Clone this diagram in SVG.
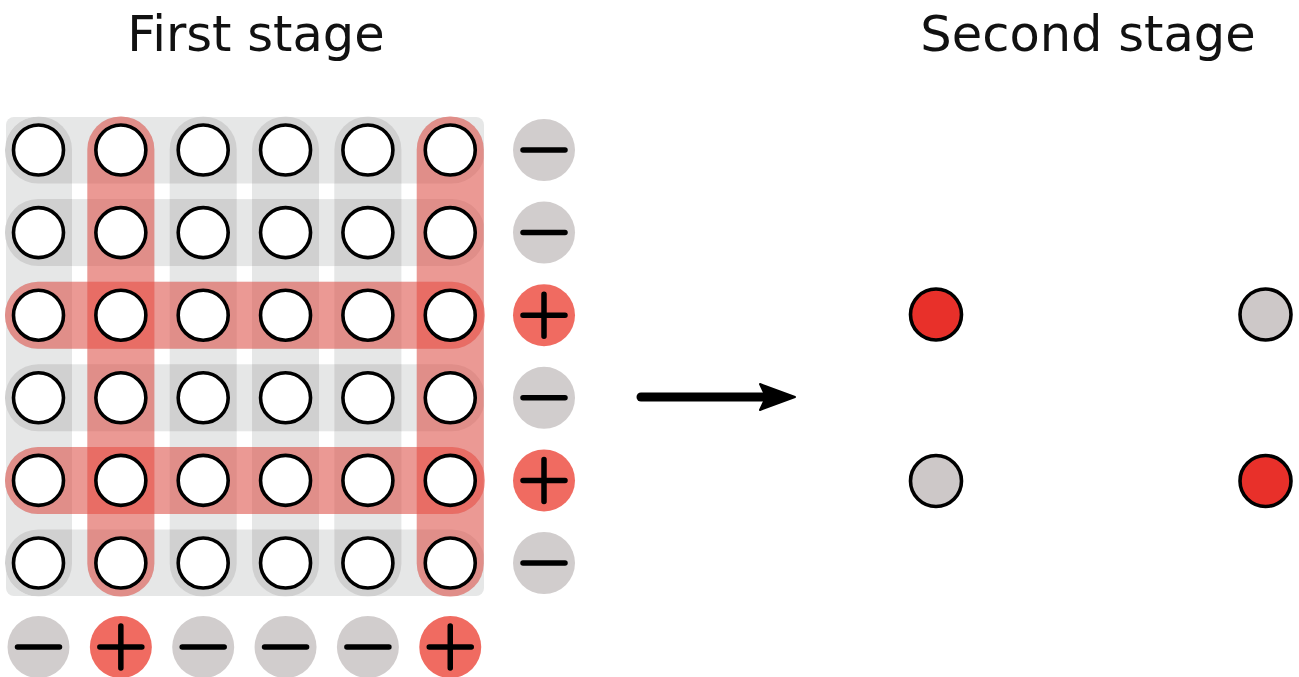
<svg xmlns="http://www.w3.org/2000/svg" width="1299" height="677" viewBox="0 0 1299 677">
<style>
.title{font-family:"DejaVu Sans",Verdana,sans-serif;font-size:49.5px;fill:#111;text-anchor:middle}
.cell{fill:#fff;stroke:#000;stroke-width:3.6}
.mneg{fill:#d1cdcd}
.mpos{fill:#f06b61}
.sign{stroke:#000;stroke-width:5.5;stroke-linecap:round;fill:none}
.dark{fill:#d0d0d0}
.red{fill:#f04c42;fill-opacity:0.5}
.gap{fill:#fff}
</style>
<defs>
<clipPath id="rowclip">
<rect x="5" y="116.5" width="480" height="67" rx="33"/>
<rect x="5" y="199.1" width="480" height="67" rx="33"/>
<rect x="5" y="281.7" width="480" height="67" rx="33"/>
<rect x="5" y="364.3" width="480" height="67" rx="33"/>
<rect x="5" y="446.9" width="480" height="67" rx="33"/>
<rect x="5" y="529.5" width="480" height="67" rx="33"/>
</clipPath>
</defs>
<text class="title" x="256" y="51">First stage</text>
<text class="title" x="1088" y="51">Second stage</text>
<g id="grid-background">
<rect x="6" y="117" width="478" height="479" rx="8" fill="#e6e7e7"/>
<g class="gap">
<rect x="72" y="183.5" width="15.3" height="15.6"/><rect x="154.4" y="183.5" width="15.3" height="15.6"/><rect x="236.7" y="183.5" width="15.3" height="15.6"/><rect x="319" y="183.5" width="15.3" height="15.6"/><rect x="401.4" y="183.5" width="15.3" height="15.6"/>
<rect x="72" y="266.1" width="15.3" height="15.6"/><rect x="154.4" y="266.1" width="15.3" height="15.6"/><rect x="236.7" y="266.1" width="15.3" height="15.6"/><rect x="319" y="266.1" width="15.3" height="15.6"/><rect x="401.4" y="266.1" width="15.3" height="15.6"/>
<rect x="72" y="348.7" width="15.3" height="15.6"/><rect x="154.4" y="348.7" width="15.3" height="15.6"/><rect x="236.7" y="348.7" width="15.3" height="15.6"/><rect x="319" y="348.7" width="15.3" height="15.6"/><rect x="401.4" y="348.7" width="15.3" height="15.6"/>
<rect x="72" y="431.3" width="15.3" height="15.6"/><rect x="154.4" y="431.3" width="15.3" height="15.6"/><rect x="236.7" y="431.3" width="15.3" height="15.6"/><rect x="319" y="431.3" width="15.3" height="15.6"/><rect x="401.4" y="431.3" width="15.3" height="15.6"/>
<rect x="72" y="513.9" width="15.3" height="15.6"/><rect x="154.4" y="513.9" width="15.3" height="15.6"/><rect x="236.7" y="513.9" width="15.3" height="15.6"/><rect x="319" y="513.9" width="15.3" height="15.6"/><rect x="401.4" y="513.9" width="15.3" height="15.6"/>
</g>
<g class="dark" clip-path="url(#rowclip)">
<rect x="5" y="116.5" width="67" height="480" rx="33"/>
<rect x="87.35" y="116.5" width="67" height="480" rx="33"/>
<rect x="169.7" y="116.5" width="67" height="480" rx="33"/>
<rect x="252.05" y="116.5" width="67" height="480" rx="33"/>
<rect x="334.4" y="116.5" width="67" height="480" rx="33"/>
<rect x="416.75" y="116.5" width="67" height="480" rx="33"/>
</g>
</g>
<g id="red-bands">
<rect class="red" x="5" y="281.7" width="480" height="67" rx="33"/>
<rect class="red" x="5" y="446.9" width="480" height="67" rx="33"/>
<rect class="red" x="87.35" y="116.5" width="67" height="480" rx="33"/>
<rect class="red" x="416.75" y="116.5" width="67" height="480" rx="33"/>
</g>
<g id="cells">
<circle class="cell" cx="38.5" cy="150" r="25"/><circle class="cell" cx="120.85" cy="150" r="25"/><circle class="cell" cx="203.2" cy="150" r="25"/><circle class="cell" cx="285.55" cy="150" r="25"/><circle class="cell" cx="367.9" cy="150" r="25"/><circle class="cell" cx="450.25" cy="150" r="25"/>
<circle class="cell" cx="38.5" cy="232.6" r="25"/><circle class="cell" cx="120.85" cy="232.6" r="25"/><circle class="cell" cx="203.2" cy="232.6" r="25"/><circle class="cell" cx="285.55" cy="232.6" r="25"/><circle class="cell" cx="367.9" cy="232.6" r="25"/><circle class="cell" cx="450.25" cy="232.6" r="25"/>
<circle class="cell" cx="38.5" cy="315.2" r="25"/><circle class="cell" cx="120.85" cy="315.2" r="25"/><circle class="cell" cx="203.2" cy="315.2" r="25"/><circle class="cell" cx="285.55" cy="315.2" r="25"/><circle class="cell" cx="367.9" cy="315.2" r="25"/><circle class="cell" cx="450.25" cy="315.2" r="25"/>
<circle class="cell" cx="38.5" cy="397.8" r="25"/><circle class="cell" cx="120.85" cy="397.8" r="25"/><circle class="cell" cx="203.2" cy="397.8" r="25"/><circle class="cell" cx="285.55" cy="397.8" r="25"/><circle class="cell" cx="367.9" cy="397.8" r="25"/><circle class="cell" cx="450.25" cy="397.8" r="25"/>
<circle class="cell" cx="38.5" cy="480.4" r="25"/><circle class="cell" cx="120.85" cy="480.4" r="25"/><circle class="cell" cx="203.2" cy="480.4" r="25"/><circle class="cell" cx="285.55" cy="480.4" r="25"/><circle class="cell" cx="367.9" cy="480.4" r="25"/><circle class="cell" cx="450.25" cy="480.4" r="25"/>
<circle class="cell" cx="38.5" cy="563" r="25"/><circle class="cell" cx="120.85" cy="563" r="25"/><circle class="cell" cx="203.2" cy="563" r="25"/><circle class="cell" cx="285.55" cy="563" r="25"/><circle class="cell" cx="367.9" cy="563" r="25"/><circle class="cell" cx="450.25" cy="563" r="25"/>
</g>
<g id="row-markers">
<circle class="mneg" cx="544" cy="150" r="31"/><path class="sign" d="M523 150h42"/>
<circle class="mneg" cx="544" cy="232.6" r="31"/><path class="sign" d="M523 232.6h42"/>
<circle class="mpos" cx="544" cy="315.2" r="31"/><path class="sign" d="M523 315.2h42M544 294.2v42"/>
<circle class="mneg" cx="544" cy="397.8" r="31"/><path class="sign" d="M523 397.8h42"/>
<circle class="mpos" cx="544" cy="480.4" r="31"/><path class="sign" d="M523 480.4h42M544 459.4v42"/>
<circle class="mneg" cx="544" cy="563" r="31"/><path class="sign" d="M523 563h42"/>
</g>
<g id="col-markers">
<circle class="mneg" cx="38.5" cy="647" r="31"/><path class="sign" d="M17.5 647h42"/>
<circle class="mpos" cx="120.85" cy="647" r="31"/><path class="sign" d="M99.85 647h42M120.85 626v42"/>
<circle class="mneg" cx="203.2" cy="647" r="31"/><path class="sign" d="M182.2 647h42"/>
<circle class="mneg" cx="285.55" cy="647" r="31"/><path class="sign" d="M264.55 647h42"/>
<circle class="mneg" cx="367.9" cy="647" r="31"/><path class="sign" d="M346.9 647h42"/>
<circle class="mpos" cx="450.25" cy="647" r="31"/><path class="sign" d="M429.25 647h42M450.25 626v42"/>
</g>
<g id="connectors">
<line x1="641" y1="397" x2="766" y2="397" stroke="#000" stroke-width="9" stroke-linecap="round"/>
<polygon points="795,397 760,384 766,397 760,410" fill="#000" stroke="#000" stroke-width="2" stroke-linejoin="round"/>
</g>
<g id="second-stage">
<circle cx="936" cy="314.5" r="25.5" fill="#e8302a" stroke="#000" stroke-width="3.6"/>
<circle cx="1265.5" cy="314.5" r="25.5" fill="#cdc8c8" stroke="#000" stroke-width="3.6"/>
<circle cx="936" cy="481" r="25.5" fill="#cdc8c8" stroke="#000" stroke-width="3.6"/>
<circle cx="1265.5" cy="481" r="25.5" fill="#e8302a" stroke="#000" stroke-width="3.6"/>
</g>
</svg>
